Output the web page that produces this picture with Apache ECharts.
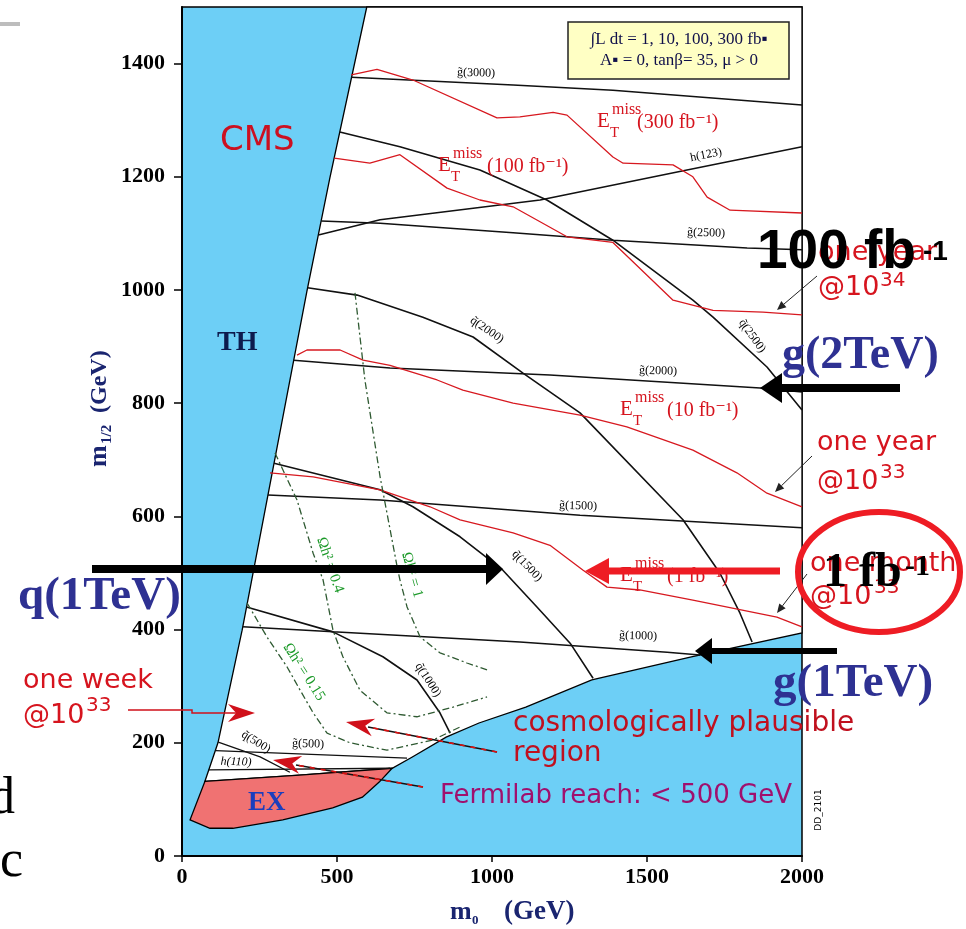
<!DOCTYPE html>
<html>
<head>
<meta charset="utf-8">
<script src="https://cdn.jsdelivr.net/npm/echarts@6/dist/echarts.min.js"></script>
<style>
  html, body { margin: 0; padding: 0; background: #fff; }
  #main { width: 966px; height: 929px; }
</style>
</head>
<body>
<div id="main"></div>
<script>
// axis ticks (GeV)
const xTicks = [0, 500, 1000, 1500, 2000]
const yTicks = [0, 200, 400, 600, 800, 1000, 1200, 1400]

// regions, points are [m0, m1/2]
const thEdge = [[74, 132], [116, 200], [194, 399], [403, 998], [477, 1198], [596, 1500]]
const lowEdge = [[678, 155], [743, 175], [852, 210], [958, 235], [1109, 263], [1322, 311], [1643, 352], [2000, 394]]
const exRegion = [[74, 132], [379, 143], [678, 155], [637, 131], [582, 104], [486, 85], [325, 64], [164, 49], [90, 49], [26, 64]]

// gluino, squark and higgs mass contours
const g3000 = [[546, 1376], [1068, 1362], [1390, 1353], [2000, 1327]]
const g2500 = [[449, 1122], [639, 1118], [1068, 1101], [1390, 1088], [1823, 1074], [2000, 1071]]
const g2000 = [[360, 876], [671, 862], [1187, 850], [1865, 827], [2000, 820]]
const g1500 = [[277, 638], [639, 629], [1284, 602], [2000, 580]]
const g1000 = [[196, 405], [487, 396], [1090, 378], [1565, 360], [1671, 355]]
const g500 = [[108, 186], [726, 173]]
const q2500 = [[509, 1279], [703, 1253], [961, 1212], [1177, 1159], [1390, 1088], [1648, 982], [1713, 952], [1887, 864], [2000, 788]]
const q2000 = [[405, 1004], [565, 991], [777, 952], [939, 917], [1100, 853], [1284, 783], [1616, 594], [1735, 500], [1800, 429], [1839, 378]]
const q1500 = [[297, 694], [639, 647], [745, 617], [897, 564], [1035, 505], [1145, 440], [1252, 376], [1326, 314]]
const q1000 = [[208, 440], [487, 396], [648, 352], [758, 311], [832, 253], [865, 217]]
const q500 = [[117, 201], [252, 175], [348, 148]]
const h123 = [[440, 1097], [639, 1124], [1155, 1159], [1629, 1212], [2000, 1253]]
const h110 = [[86, 152], [671, 155]]

// missing-ET reach for 300, 100, 10, 1 fb-1
const met300 = [[546, 1380], [629, 1390], [745, 1371], [1016, 1304], [1090, 1306], [1197, 1314], [1242, 1309], [1390, 1235], [1423, 1224], [1584, 1221], [1648, 1200], [1694, 1164], [1768, 1141], [2000, 1136]]
const met100 = [[491, 1233], [606, 1224], [703, 1239], [855, 1180], [961, 1159], [1068, 1147], [1242, 1094], [1390, 1084], [1584, 982], [1713, 964], [1874, 961], [2000, 956]]
const met10 = [[371, 885], [403, 894], [510, 894], [584, 876], [671, 867], [823, 841], [906, 823], [1068, 800], [1284, 779], [1435, 758], [1648, 717], [1790, 677], [1887, 641], [2000, 617]]
const met1 = [[284, 677], [423, 670], [639, 647], [800, 617], [897, 594], [1068, 571], [1187, 549], [1294, 505], [1371, 475], [1477, 470], [1648, 452], [1919, 422], [2000, 405]]

// relic density contours
const omega015 = [[210, 447], [274, 387], [339, 334], [381, 293], [423, 253], [468, 217], [542, 200], [661, 187], [810, 205], [897, 228]]
const omega04 = [[300, 712], [371, 629], [423, 535], [455, 488], [487, 399], [519, 352], [574, 293], [661, 253], [758, 246], [874, 263], [984, 281]]
const omega1 = [[558, 995], [590, 841], [639, 670], [694, 511], [703, 488], [726, 440], [768, 387], [832, 359], [919, 341], [984, 329]]

const RED = '#d71920'
const TXTRED = '#d6141e'
const NAVY = '#2e3192'
const SERIF = '"Liberation Serif", "DejaVu Serif", serif'
const SANS = '"DejaVu Sans", "Liberation Sans", sans-serif'

const chart = echarts.init(document.getElementById('main'))

// polygon drawn through the axes
function area (pts, fill) {
  return {
    type: 'custom',
    coordinateSystem: 'cartesian2d',
    data: [[0, 0]],
    silent: true,
    z: 1,
    renderItem: function (params, api) {
      return {
        type: 'polygon',
        shape: { points: pts.map(p => api.coord(p)) },
        style: { fill: fill, stroke: '#000', lineWidth: 1.3 }
      }
    }
  }
}

function curve (pts, color, width, dash) {
  return {
    type: 'line',
    data: pts,
    showSymbol: false,
    symbol: 'none',
    silent: true,
    z: 3,
    lineStyle: { color: color, width: width, type: dash || 'solid' }
  }
}

// text placed by left edge and baseline
function txt (x, base, s, size, o) {
  o = o || {}
  return {
    type: 'text',
    z: o.z || 20,
    silent: true,
    x: x,
    y: base - size * 0.34,
    style: {
      text: s,
      fill: o.color || '#000',
      font: (o.style || '') + ' ' + (o.weight || 'normal') + ' ' + size + 'px ' + (o.family || SERIF),
      align: 'left',
      verticalAlign: 'middle'
    }
  }
}

// centred, rotated label
function lab (cx, cy, s, rot, o) {
  o = o || {}
  const size = o.size || 12
  return {
    type: 'text',
    z: 20,
    silent: true,
    x: cx,
    y: cy,
    rotation: rot || 0,
    style: {
      text: s,
      fill: o.color || '#000',
      font: (o.style || '') + ' ' + (o.weight || 'normal') + ' ' + size + 'px ' + (o.family || SERIF),
      align: 'center',
      verticalAlign: 'middle'
    }
  }
}

function met (x, base, tailX, tail) {
  return [
    txt(x, base, 'E', 21, { color: TXTRED }),
    txt(x + 15, base - 14, 'miss', 16, { color: TXTRED }),
    txt(x + 13, base + 9, 'T', 15, { color: TXTRED }),
    txt(tailX, base + 1, tail, 20, { color: TXTRED })
  ]
}

function thinArrow (x1, y1, x2, y2, color) {
  const a = Math.atan2(y2 - y1, x2 - x1)
  const L = 9, W = 4
  const bx = x2 - L * Math.cos(a), by = y2 - L * Math.sin(a)
  return [
    { type: 'line', z: 20, silent: true, shape: { x1: x1, y1: y1, x2: bx, y2: by }, style: { stroke: color, lineWidth: 1 } },
    { type: 'polygon', z: 20, silent: true, shape: { points: [[x2, y2], [bx - W * Math.sin(a), by + W * Math.cos(a)], [bx + W * Math.sin(a), by - W * Math.cos(a)]] }, style: { fill: color } }
  ]
}

// concave red arrow head pointing from (fx,fy) to the tip
function redHead (tx, ty, fx, fy, len, half) {
  const a = Math.atan2(ty - fy, tx - fx)
  const c = Math.cos(a), s = Math.sin(a)
  const bx = tx - len * c, by = ty - len * s
  const nx = tx - len * 0.7 * c, ny = ty - len * 0.7 * s
  return {
    type: 'polygon', z: 21, silent: true,
    shape: { points: [[tx, ty], [bx - half * s, by + half * c], [nx, ny], [bx + half * s, by - half * c]] },
    style: { fill: '#d0101a' }
  }
}

function pointer (x1, y1, x2, y2) {
  return [
    { type: 'line', z: 20, silent: true, shape: { x1: x1, y1: y1, x2: x2, y2: y2 }, style: { stroke: '#111', lineWidth: 1.6 } },
    { type: 'line', z: 20, silent: true, shape: { x1: x1, y1: y1, x2: x2, y2: y2 }, style: { stroke: '#e01010', lineWidth: 1.6, lineDash: [5, 6] } }
  ]
}

function bigArrow (x1, xBase, xTip, y, half, lw, color) {
  return [
    { type: 'line', z: 30, silent: true, shape: { x1: x1, y1: y, x2: xBase, y2: y }, style: { stroke: color, lineWidth: lw } },
    { type: 'polygon', z: 30, silent: true, shape: { points: [[xTip, y], [xBase, y - half], [xBase, y + half]] }, style: { fill: color } }
  ]
}

const graphics = [].concat(
  // leftovers of the slide
  [{ type: 'rect', z: 5, silent: true, shape: { x: 0, y: 22, width: 20, height: 4 }, style: { fill: '#bdbdbd' } }],
  [txt(-11, 817, 'd', 52), txt(0, 880, 'c', 52)],

  // info box
  [{ type: 'rect', z: 15, silent: true, shape: { x: 568, y: 22, width: 221, height: 57 }, style: { fill: '#ffffc4', stroke: '#222', lineWidth: 1.5 } }],
  [lab(679, 40, '∫L dt = 1, 10, 100, 300 fb▪', 0, { size: 17, color: '#10104a' })],
  [lab(679, 61, 'A▪ = 0, tanβ= 35, μ > 0', 0, { size: 17, color: '#10104a' })],

  // region names
  [txt(220, 153, 'CMS', 34, { family: SANS, color: '#cc1020' })],
  [txt(217, 352, 'TH', 28, { weight: 'bold', color: '#0d1b4d' })],
  [txt(248, 812, 'EX', 27, { weight: 'bold', color: '#1b3ebd' })],

  // contour names
  [
    lab(476, 73, 'g̃(3000)', -0.03),
    lab(706, 233, 'g̃(2500)', -0.03),
    lab(658, 371, 'g̃(2000)', -0.03),
    lab(578, 506, 'g̃(1500)', -0.03),
    lab(638, 636, 'g̃(1000)', -0.03),
    lab(308, 744, 'g̃(500)', -0.03),
    lab(706, 155, 'h(123)', 0.2),
    lab(236, 762, 'h(110)', -0.02, { style: 'italic' }),
    lab(752, 336, 'q̃(2500)', -0.95),
    lab(487, 330, 'q̃(2000)', -0.6),
    lab(527, 566, 'q̃(1500)', -0.8),
    lab(428, 680, 'q̃(1000)', -1.0),
    lab(256, 742, 'q̃(500)', -0.55),
    lab(330, 565, 'Ωh² = 0.4', -1.24, { size: 15, color: '#1d9a2a' }),
    lab(412, 575, 'Ωh² = 1', -1.3, { size: 15, color: '#1d9a2a' }),
    lab(304, 672, 'Ωh² = 0.15', -1.0, { size: 15, color: '#1d9a2a' }),
    { type: 'text', z: 20, silent: true, x: 819, y: 810, rotation: Math.PI / 2, style: { text: 'DD_2101', fill: '#000', font: '9px ' + SANS, align: 'center', verticalAlign: 'middle' } }
  ],
  met(597, 129, 637, '(300 fb⁻¹)'),
  met(438, 173, 487, '(100 fb⁻¹)'),
  met(620, 417, 667, '(10 fb⁻¹)'),
  met(620, 583, 667, '(1 fb⁻¹)'),

  // luminosity notes
  [
    txt(818, 262, 'one year', 27, { family: SANS, color: TXTRED }),
    txt(818, 297, '@10', 27, { family: SANS, color: TXTRED }),
    txt(880, 288, '34', 20, { family: SANS, color: TXTRED }),
    txt(817, 452, 'one year', 27, { family: SANS, color: TXTRED }),
    txt(817, 491, '@10', 27, { family: SANS, color: TXTRED }),
    txt(880, 480, '33', 20, { family: SANS, color: TXTRED }),
    txt(810, 573, 'one month', 27, { family: SANS, color: TXTRED }),
    txt(810, 606, '@10', 27, { family: SANS, color: TXTRED }),
    txt(874, 595, '33', 20, { family: SANS, color: TXTRED }),
    txt(23, 690, 'one week', 27, { family: SANS, color: TXTRED }),
    txt(23, 725, '@10', 27, { family: SANS, color: TXTRED }),
    txt(86, 713, '33', 20, { family: SANS, color: TXTRED }),
    txt(513, 733, 'cosmologically plausible', 28, { family: SANS, color: '#c0101e' }),
    txt(513, 763, 'region', 28, { family: SANS, color: '#c0101e' }),
    txt(440, 805, 'Fermilab reach: < 500 GeV', 26, { family: SANS, color: '#a0106e' })
  ],
  thinArrow(817, 276, 777, 310, '#222'),
  thinArrow(812, 456, 775, 492, '#222'),
  thinArrow(807, 574, 777, 613, '#222'),

  // red pointers
  [{ type: 'polyline', z: 20, silent: true, shape: { points: [[128, 710], [192, 710], [192, 713], [236, 713]] }, style: { stroke: '#d0101a', lineWidth: 1.5, fill: null } }],
  [redHead(255, 713, 128, 713, 27, 9)],
  pointer(497, 752, 368, 727),
  [redHead(346, 722, 497, 752, 28, 9)],
  pointer(423, 787, 296, 765),
  [redHead(273, 760, 423, 787, 28, 9)],

  // axis titles
  [{
    type: 'group', x: 100, y: 405, rotation: Math.PI / 2,
    children: [
      txt(-62, 8, 'm', 26, { weight: 'bold', color: '#1a2570' }),
      txt(-39, 12, '1/2', 15, { weight: 'bold', color: '#1a2570' }),
      txt(-8, 8, '(GeV)', 24, { weight: 'bold', color: '#1a2570' })
    ]
  }],
  [
    txt(450, 921, 'm', 26, { weight: 'bold', color: '#1a2570' }),
    txt(472, 925, '0', 13, { weight: 'bold', color: '#1a2570' }),
    txt(504, 921, '(GeV)', 27, { weight: 'bold', color: '#1a2570' })
  ],

  // slide overlay
  bigArrow(92, 486, 503, 569, 16, 8, '#000'),
  bigArrow(900, 782, 760, 388, 15, 8, '#000'),
  bigArrow(780, 609, 585, 571, 13, 7, '#ee1c24'),
  bigArrow(837, 712, 695, 651, 13, 6, '#000'),
  [
    txt(757, 272, '100 fb', 55, { weight: 'bold', family: '"Liberation Sans", Arial, sans-serif', z: 31 }),
    txt(923, 262, '-1', 28, { weight: 'bold', family: '"Liberation Sans", Arial, sans-serif', z: 31 }),
    txt(782, 372, 'g(2TeV)', 46, { weight: 'bold', color: NAVY, z: 31 }),
    txt(18, 613, 'q(1TeV)', 47, { weight: 'bold', color: NAVY, z: 31 }),
    txt(773, 700, 'g(1TeV)', 47, { weight: 'bold', color: NAVY, z: 31 }),
    txt(823, 590, '1 fb', 48, { weight: 'bold', z: 31 }),
    txt(905, 577, '-1', 30, { weight: 'bold', z: 31 }),
    { type: 'ellipse', z: 32, silent: true, shape: { cx: 879, cy: 572, rx: 81, ry: 60 }, style: { fill: 'none', stroke: '#ee1c24', lineWidth: 6 } }
  ]
)

const tickLabel = {
  color: '#000',
  fontFamily: 'Liberation Serif',
  fontWeight: 'bold',
  fontSize: 22,
  formatter: v => String(v)
}

const option = {
  animation: false,
  grid: {
    left: 182,
    top: 7,
    width: 620,
    height: 849,
    show: true,
    backgroundColor: '#6dcff6',
    borderColor: '#000',
    borderWidth: 1.5
  },
  xAxis: {
    type: 'value',
    min: 0,
    max: 2000,
    interval: 500,
    splitLine: { show: false },
    axisLine: { lineStyle: { color: '#000', width: 2 } },
    axisTick: { length: 6, lineStyle: { color: '#000', width: 1.5 }, customValues: xTicks },
    axisLabel: Object.assign({ customValues: xTicks, margin: 10 }, tickLabel)
  },
  yAxis: {
    type: 'value',
    min: 0,
    max: 1500,
    interval: 100,
    splitLine: { show: false },
    axisLine: { lineStyle: { color: '#000', width: 2 } },
    axisTick: { length: 8, lineStyle: { color: '#000', width: 1.5 }, customValues: yTicks },
    axisLabel: Object.assign({ customValues: yTicks, margin: 17 }, tickLabel)
  },
  series: [
    area(thEdge.concat([[2000, 1500]], lowEdge.slice().reverse(), [[379, 143]]), '#ffffff'),
    area(exRegion, '#f07272'),
    curve(g3000, '#111', 1.5),
    curve(g2500, '#111', 1.5),
    curve(g2000, '#111', 1.5),
    curve(g1500, '#111', 1.5),
    curve(g1000, '#111', 1.5),
    curve(g500, '#111', 1.3),
    curve(q2500, '#111', 1.6),
    curve(q2000, '#111', 1.6),
    curve(q1500, '#111', 1.6),
    curve(q1000, '#111', 1.6),
    curve(q500, '#111', 1.3),
    curve(h123, '#111', 1.5),
    curve(h110, '#111', 1.3),
    curve(met300, RED, 1.3),
    curve(met100, RED, 1.3),
    curve(met10, RED, 1.3),
    curve(met1, RED, 1.3),
    curve(omega015, '#2f5a32', 1.3, [7, 3, 2, 3]),
    curve(omega04, '#2f5a32', 1.3, [7, 3, 2, 3]),
    curve(omega1, '#2f5a32', 1.3, [7, 3, 2, 3])
  ],
  graphic: graphics
}

chart.setOption(option)
</script>
</body>
</html>
